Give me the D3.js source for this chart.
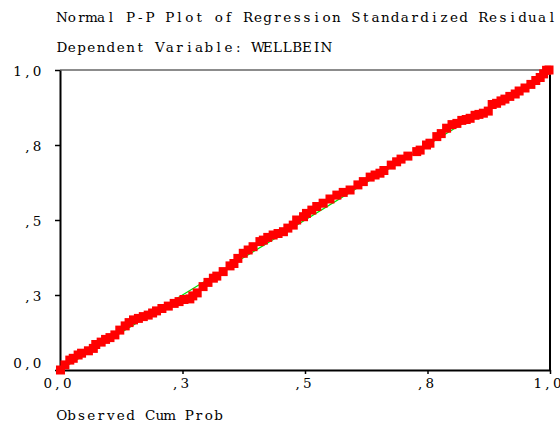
<!DOCTYPE html>
<html>
<head>
<meta charset="utf-8">
<script src="https://cdn.jsdelivr.net/npm/d3@7"></script>
<style>
  html, body { margin: 0; padding: 0; background: #fff; }
  svg text { font-family: "DejaVu Serif", "Liberation Serif", serif; font-size: 13.5px; fill: #000; }
</style>
</head>
<body>
<svg id="chart" width="560" height="423"></svg>
<script>
const titleLines = ["Normal P-P Plot of Regression Standardized Residual", "Dependent Variable: WELLBEIN"];
const xAxisTitle = "Observed Cum Prob";
const tickValues = [0, 0.25, 0.5, 0.75, 1];
const tickLabels = ["0,0", ",3", ",5", ",8", "1,0"];

// Observed cumulative probability (x) and expected cumulative probability (y)
const observed = [
  0.001, 0.010, 0.020, 0.027, 0.037, 0.044, 0.058, 0.068, 0.073, 0.084,
  0.093, 0.102, 0.112, 0.122, 0.133, 0.141, 0.150, 0.160, 0.170, 0.180,
  0.189, 0.197, 0.208, 0.221, 0.233, 0.243, 0.253, 0.265, 0.271, 0.280,
  0.292, 0.302, 0.313, 0.320, 0.333, 0.347, 0.355, 0.363, 0.374, 0.384,
  0.394, 0.408, 0.415, 0.424, 0.435, 0.445, 0.456, 0.465, 0.476, 0.483,
  0.497, 0.503, 0.514, 0.524, 0.537, 0.551, 0.565, 0.578, 0.592, 0.608,
  0.619, 0.633, 0.643, 0.653, 0.661, 0.676, 0.687, 0.696, 0.710, 0.728,
  0.735, 0.748, 0.755, 0.769, 0.778, 0.789, 0.800, 0.810, 0.820, 0.829,
  0.837, 0.847, 0.855, 0.864, 0.874, 0.882, 0.891, 0.900, 0.908, 0.918,
  0.929, 0.937, 0.949, 0.961, 0.971, 0.980, 0.987, 0.993, 0.998
];
const expected = [
  0.000, 0.017, 0.033, 0.039, 0.050, 0.056, 0.064, 0.072, 0.085, 0.093,
  0.102, 0.108, 0.117, 0.133, 0.147, 0.158, 0.167, 0.172, 0.178, 0.183,
  0.190, 0.197, 0.205, 0.213, 0.222, 0.228, 0.235, 0.237, 0.247, 0.257,
  0.278, 0.292, 0.306, 0.313, 0.328, 0.347, 0.355, 0.372, 0.389, 0.400,
  0.411, 0.428, 0.433, 0.442, 0.450, 0.455, 0.461, 0.473, 0.483, 0.500,
  0.511, 0.522, 0.533, 0.545, 0.556, 0.570, 0.583, 0.592, 0.600, 0.617,
  0.628, 0.643, 0.650, 0.656, 0.665, 0.683, 0.694, 0.703, 0.713, 0.728,
  0.733, 0.750, 0.756, 0.778, 0.788, 0.806, 0.818, 0.822, 0.832, 0.835,
  0.839, 0.849, 0.852, 0.856, 0.863, 0.885, 0.889, 0.897, 0.903, 0.912,
  0.920, 0.930, 0.940, 0.952, 0.965, 0.975, 0.987, 0.999, 1.000
];
const refLine = [[0, 0], [1, 1]];

(function () {
const svg = d3.select("#chart");
const mLeft = 60, mRight = 550, mTop = 70, mBottom = 370;
const cell = 9.8; // fixed character cell width (monospaced look)
const x = d3.scaleLinear().domain([0, 1]).range([mLeft, mRight]);
const y = d3.scaleLinear().domain([0, 1]).range([mBottom, mTop]);

// place each character centred in a fixed-width cell
const cellXs = (str, start) => Array.from(str).map((c, i) => (start + (i + 0.5) * cell).toFixed(2)).join(" ");
function monoText(sel, str, start, baseline) {
  return sel.append("text")
    .attr("text-anchor", "middle")
    .attr("x", cellXs(str, start))
    .attr("y", baseline)
    .text(str);
}

// titles
titleLines.forEach((t, i) => monoText(svg, t, 57, 22 + i * 30));
monoText(svg, xAxisTitle, 57, 420);

// frame: top thin grey, right black
svg.append("line").attr("x1", x(0)).attr("x2", x(1)).attr("y1", y(1)).attr("y2", y(1))
  .attr("stroke", "#666").attr("stroke-width", 1.3);
svg.append("line").attr("x1", x(1)).attr("x2", x(1)).attr("y1", y(1)).attr("y2", y(0))
  .attr("stroke", "#000").attr("stroke-width", 2);

// axes
const fmt = v => tickLabels[tickValues.indexOf(v)];
const gx = svg.append("g").attr("transform", `translate(0,${mBottom})`)
  .call(d3.axisBottom(x).tickValues(tickValues).tickFormat(fmt).tickSize(4).tickSizeOuter(0));
const gy = svg.append("g").attr("transform", `translate(${mLeft},0)`)
  .call(d3.axisLeft(y).tickValues(tickValues).tickFormat(fmt).tickSize(5).tickSizeOuter(0));

[gx, gy].forEach(g => {
  g.select(".domain").attr("stroke", "#000").attr("stroke-width", 2);
  g.selectAll(".tick line").attr("stroke", "#000").attr("stroke-width", 1.5);
  g.selectAll(".tick text")
    .style("font-family", '"DejaVu Serif", "Liberation Serif", serif')
    .style("font-size", "13.5px").attr("fill", "#000")
    .attr("text-anchor", "middle").attr("dy", null);
});
// x tick labels: centred under tick, monospaced cells
gx.selectAll(".tick text").each(function (d) {
  const str = fmt(d);
  const n = str.length;
  d3.select(this).attr("x", cellXs(str, -3 - n * cell / 2)).attr("y", 17.5);
});
// y tick labels: right-aligned at x = 42
gy.selectAll(".tick text").each(function (d) {
  const str = fmt(d);
  const n = str.length;
  d3.select(this).attr("x", cellXs(str, -18 - n * cell)).attr("y", d === 0 ? -3 : 5);
});

// reference line
svg.append("path").datum(refLine)
  .attr("d", d3.line().x(d => x(d[0])).y(d => y(d[1])))
  .attr("stroke", "#00e000").attr("stroke-width", 1.2).attr("fill", "none");

// points
const pts = observed.map((o, i) => ({ o, e: expected[i] }));
const s = 9;
svg.append("g").selectAll("rect").data(pts).enter().append("rect")
  .attr("x", d => x(d.o) - s / 2)
  .attr("y", d => y(d.e) - s / 2)
  .attr("width", s).attr("height", s)
  .attr("fill", "#ff0000");
})();
</script>
</body>
</html>
